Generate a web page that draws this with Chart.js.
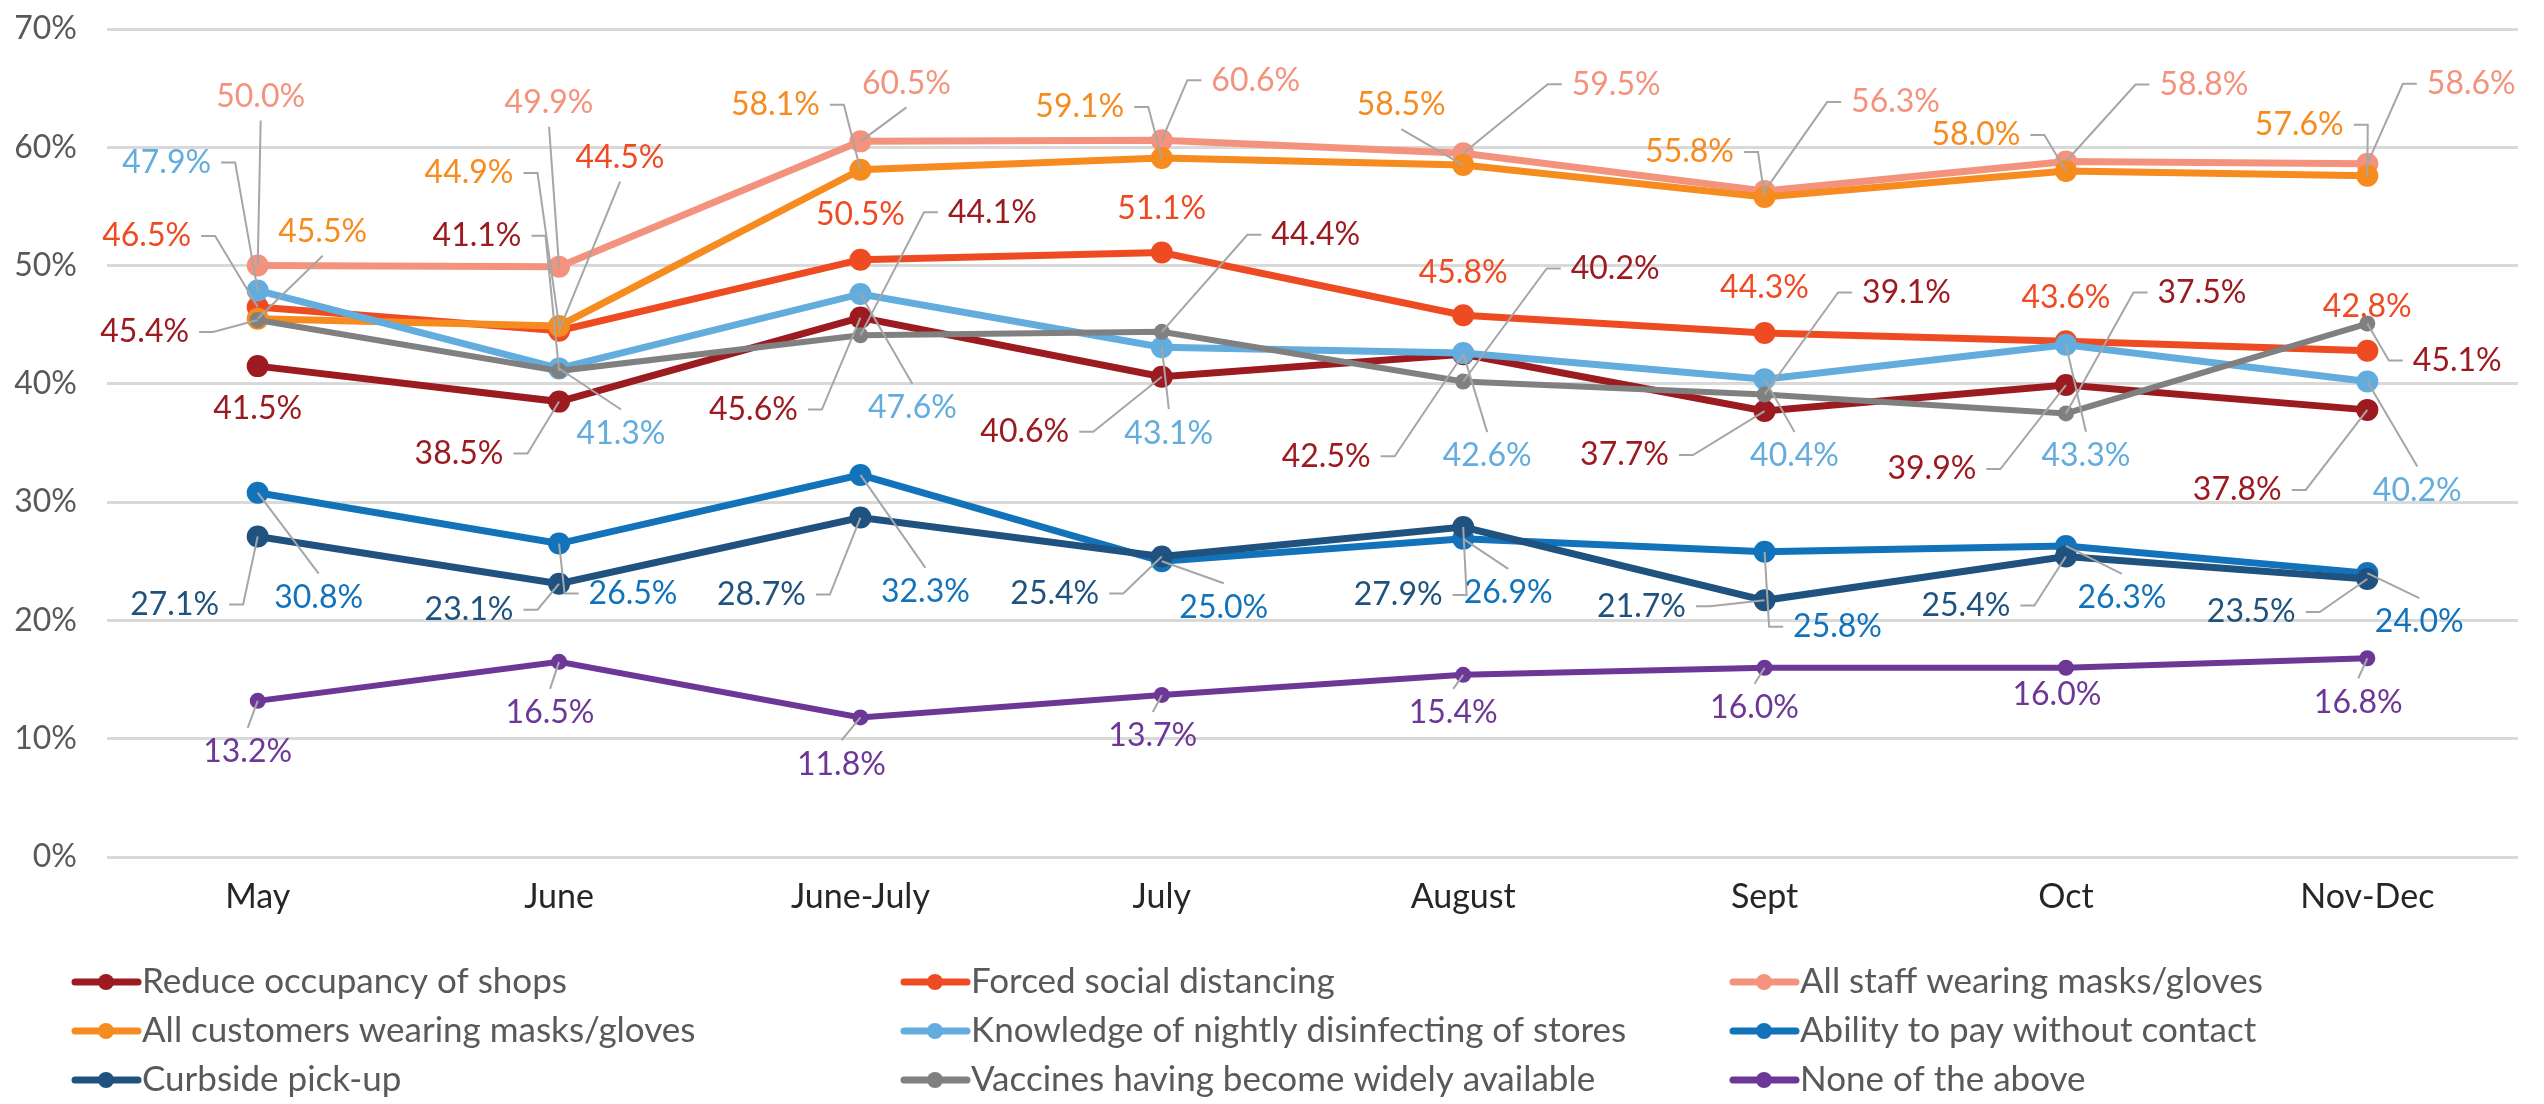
<!DOCTYPE html>
<html>
<head>
<meta charset="utf-8">
<title>Store measures that make shoppers feel safe</title>
<script src="https://cdn.jsdelivr.net/npm/chart.js@4.4.1/dist/chart.umd.min.js"></script>
<style>
  html, body { margin: 0; padding: 0; background: #fff; }
  #wrap { width: 2544px; height: 1104px; position: relative; }
</style>
</head>
<body>
<div id="wrap"><canvas id="chart"></canvas></div>
<script>
// survey waves
const months = ['May', 'June', 'June-July', 'July', 'August', 'Sept', 'Oct', 'Nov-Dec'];

const seriesNames = [
  'Reduce occupancy of shops',
  'Forced social distancing',
  'All staff wearing masks/gloves',
  'All customers wearing masks/gloves',
  'Knowledge of nightly disinfecting of stores',
  'Ability to pay without contact',
  'Curbside pick-up',
  'Vaccines having become widely available',
  'None of the above'
];

// values in %
const reduceOccupancy = [41.5, 38.5, 45.6, 40.6, 42.5, 37.7, 39.9, 37.8];
const socialDistancing = [46.5, 44.5, 50.5, 51.1, 45.8, 44.3, 43.6, 42.8];
const staffMasks = [50.0, 49.9, 60.5, 60.6, 59.5, 56.3, 58.8, 58.6];
const customerMasks = [45.5, 44.9, 58.1, 59.1, 58.5, 55.8, 58.0, 57.6];
const nightlyDisinfecting = [47.9, 41.3, 47.6, 43.1, 42.6, 40.4, 43.3, 40.2];
const contactlessPay = [30.8, 26.5, 32.3, 25.0, 26.9, 25.8, 26.3, 24.0];
const curbsidePickup = [27.1, 23.1, 28.7, 25.4, 27.9, 21.7, 25.4, 23.5];
const vaccines = [45.4, 41.1, 44.1, 44.4, 40.2, 39.1, 37.5, 45.1];
const noneOfAbove = [13.2, 16.5, 11.8, 13.7, 15.4, 16.0, 16.0, 16.8];

const seriesValues = [reduceOccupancy, socialDistancing, staffMasks, customerMasks,
  nightlyDisinfecting, contactlessPay, curbsidePickup, vaccines, noneOfAbove];

const lineColors = ['#9b1b20', '#ef4b23', '#f4937d', '#f68b1f', '#62acde', '#1273bb', '#1f527e', '#808080', '#6c3796'];
const labelColors = ['#9b1b20', '#ef4b23', '#f4937d', '#f68b1f', '#62acde', '#1273bb', '#1f527e', '#9b1b20', '#6c3796'];
const markerRadius = [11, 11, 11, 11, 11, 11, 11, 8, 8];
const lineWidths = [7, 7, 7, 7, 7, 7, 7, 6, 6];

// label placement: [dx, dy, leader] relative to the point
// leader: n = none, t = short tick then line, l = straight line
const labelPlacement = [
  [[0, 43, 'n'], [-100, 52, 't'], [-107, 92, 't'], [-137, 55, 't'], [-137, 102, 't'], [-140, 44, 't'], [-134, 84, 't'], [-130, 80, 't']],
  [[-111, -71, 't'], [61, -173, 'l'], [0, -45, 'n'], [0, -44, 'n'], [0, -43, 'n'], [0, -45, 'n'], [0, -44, 'n'], [0, -44, 'n']],
  [[3, -169, 'l'], [-10, -164, 'l'], [46, -58, 'l'], [94, -60, 't'], [153, -69, 't'], [131, -89, 't'], [138, -77, 't'], [104, -80, 't']],
  [[65, -87, 'l'], [-90, -153, 't'], [-85, -65, 't'], [-82, -51, 't'], [-62, -60, 'l'], [-75, -45, 't'], [-90, -36, 't'], [-68, -51, 't']],
  [[-91, -128, 't'], [62, 65, 'l'], [52, 114, 'l'], [7, 86, 'l'], [24, 103, 'l'], [30, 77, 'l'], [20, 111, 'l'], [50, 109, 'l']],
  [[61, 105, 'l'], [74, 50, 't'], [65, 117, 'l'], [62, 46, 'l'], [45, 54, 'l'], [73, 75, 't'], [56, 52, 'l'], [52, 49, 'l']],
  [[-83, 68, 't'], [-90, 26, 't'], [-99, 77, 't'], [-107, 37, 't'], [-65, 68, 't'], [-123, 6, 't'], [-100, 49, 't'], [-116, 33, 't']],
  [[-113, 12, 't'], [-82, -135, 't'], [132, -123, 't'], [154, -97, 't'], [152, -113, 't'], [142, -102, 't'], [136, -121, 't'], [90, 37, 't']],
  [[-10, 51, 'l'], [-9, 51, 'l'], [-19, 47, 'l'], [-9, 41, 'l'], [-10, 38, 'l'], [-10, 40, 'l'], [-9, 27, 'n'], [-9, 44, 'l']]
];

const legendColumns = [75, 904, 1733];
const legendRows = [982, 1031, 1080];

const leaderLabels = {
  id: 'leaderLabels',
  afterDatasetsDraw(chart) {
    const ctx = chart.ctx;
    ctx.save();
    ctx.font = '32px Lato';
    ctx.textAlign = 'center';
    ctx.textBaseline = 'middle';
    chart.data.datasets.forEach((ds, i) => {
      const meta = chart.getDatasetMeta(i);
      meta.data.forEach((pt, j) => {
        const [dx, dy, kind] = labelPlacement[i][j];
        const cx = pt.x + dx, cy = pt.y + dy;
        const text = ds.data[j].toFixed(1) + '%';
        const w = ctx.measureText(text).width;
        ctx.strokeStyle = '#a6a6a6';
        ctx.lineWidth = 2;
        if (kind === 't') {
          const side = dx < 0 ? 1 : -1;
          const x0 = cx + side * (w / 2 + 10);
          const x1 = x0 + side * 14;
          ctx.beginPath();
          ctx.moveTo(x0, cy);
          ctx.lineTo(x1, cy);
          ctx.lineTo(pt.x, pt.y);
          ctx.stroke();
        } else if (kind === 'l') {
          const y0 = cy + (dy < 0 ? 24 : -24);
          ctx.beginPath();
          ctx.moveTo(cx, y0);
          ctx.lineTo(pt.x, pt.y);
          ctx.stroke();
        }
        ctx.fillStyle = labelColors[i];
        ctx.fillText(text, cx, cy);
      });
    });
    ctx.restore();
  }
};

const gridLegend = {
  id: 'gridLegend',
  afterDraw(chart) {
    const ctx = chart.ctx;
    ctx.save();
    ctx.font = '35px Lato';
    ctx.textBaseline = 'middle';
    ctx.textAlign = 'left';
    chart.data.datasets.forEach((ds, i) => {
      const x = legendColumns[i % 3];
      const y = legendRows[Math.floor(i / 3)];
      ctx.strokeStyle = ds.borderColor;
      ctx.lineWidth = 7;
      ctx.lineCap = 'round';
      ctx.beginPath();
      ctx.moveTo(x, y);
      ctx.lineTo(x + 63, y);
      ctx.stroke();
      ctx.fillStyle = ds.borderColor;
      ctx.beginPath();
      ctx.arc(x + 31, y, 8, 0, Math.PI * 2);
      ctx.fill();
      ctx.fillStyle = '#595959';
      ctx.fillText(ds.label, x + 67, y);
    });
    ctx.restore();
  }
};

const datasets = seriesValues.map((vals, i) => ({
  label: seriesNames[i],
  data: vals,
  borderColor: lineColors[i],
  backgroundColor: lineColors[i],
  pointBackgroundColor: lineColors[i],
  pointBorderColor: lineColors[i],
  pointBorderWidth: 0,
  pointRadius: markerRadius[i],
  borderWidth: lineWidths[i],
  tension: 0,
  order: seriesValues.length - 1 - i
}));

new Chart(document.getElementById('chart'), {
  type: 'line',
  data: { labels: months, datasets: datasets },
  options: {
    responsive: true,
    maintainAspectRatio: false,
    devicePixelRatio: 1,
    animation: false,
    layout: { padding: { left: 0, right: 26, top: 29, bottom: 0 } },
    plugins: {
      legend: { display: false },
      tooltip: { enabled: false }
    },
    scales: {
      x: {
        offset: true,
        grid: { display: false, drawTicks: false },
        border: { display: false },
        ticks: {
          font: { family: 'Lato', size: 34 },
          color: '#262626',
          padding: 20,
          autoSkip: false,
          maxRotation: 0
        },
        afterFit(scale) { scale.height = 247; }
      },
      y: {
        min: 0,
        max: 70,
        grid: { color: '#d9d9d9', lineWidth: 3, drawTicks: false },
        border: { display: false },
        ticks: {
          stepSize: 10,
          font: { family: 'Lato', size: 32 },
          color: '#595959',
          padding: 30,
          callback: v => v + '%'
        },
        afterFit(scale) {
          scale.width = 107;
          scale.paddingTop = 0;
          scale.paddingBottom = 0;
        }
      }
    }
  },
  plugins: [leaderLabels, gridLegend]
});
</script>
</body>
</html>
